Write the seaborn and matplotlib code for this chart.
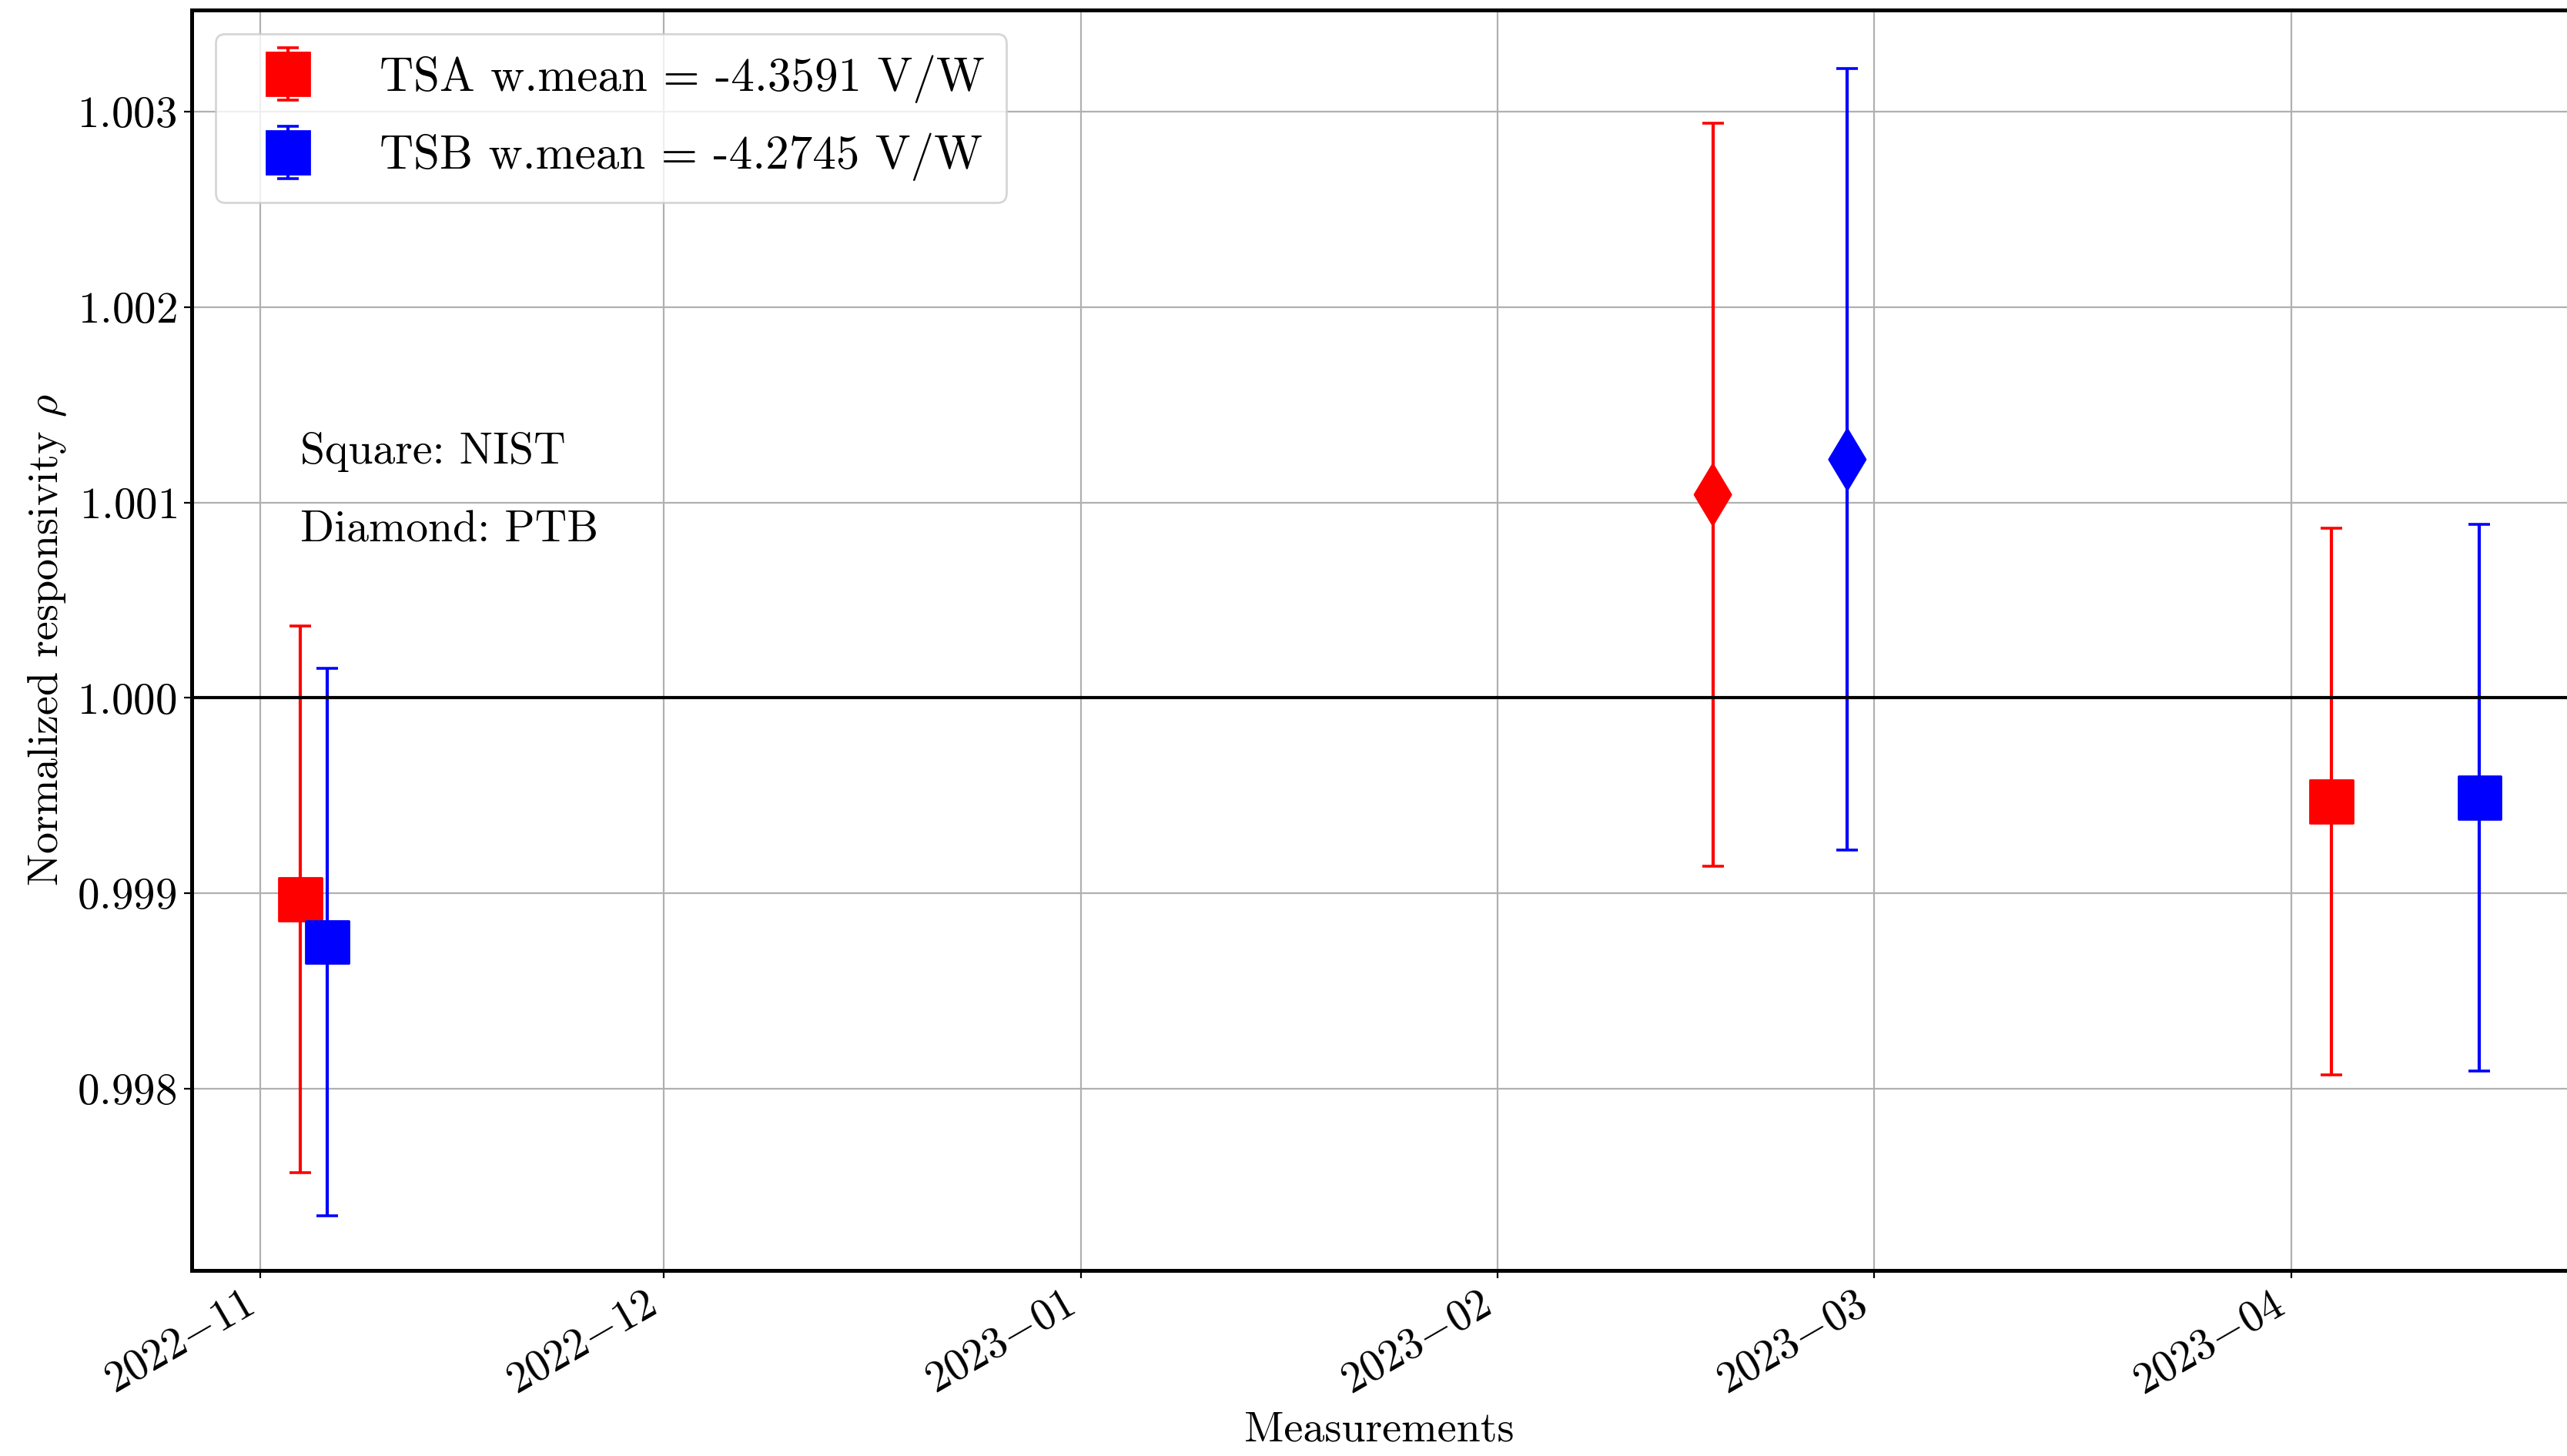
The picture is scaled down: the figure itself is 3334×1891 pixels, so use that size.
import numpy as np
import pandas as pd
import matplotlib
matplotlib.use("Agg")
import matplotlib.pyplot as plt
import matplotlib.dates as mdates
from matplotlib.ticker import MultipleLocator, FuncFormatter
from matplotlib.lines import Line2D
from matplotlib.container import ErrorbarContainer
from matplotlib.legend_handler import HandlerErrorbar
import seaborn as sns

# ---- data ----
labs = ["NIST", "PTB", "NIST"]
dates_tsa = ["2022-11-04", "2023-02-17", "2023-04-04"]
rho_tsa = [0.99897, 1.00104, 0.99947]
err_tsa = [0.00140, 0.00190, 0.00140]
dates_tsb = ["2022-11-06", "2023-02-27", "2023-04-15"]
rho_tsb = [0.99875, 1.00122, 0.99949]
err_tsb = [0.00140, 0.00200, 0.00140]
label_tsa = "TSA w.mean = -4.3591 V/W"
label_tsb = "TSB w.mean = -4.2745 V/W"
colors = {"TSA": "red", "TSB": "blue"}
markers = {"NIST": "s", "PTB": "d"}

df = pd.DataFrame({
    "date": pd.to_datetime(dates_tsa + dates_tsb),
    "rho": rho_tsa + rho_tsb,
    "err": err_tsa + err_tsb,
    "detector": ["TSA"] * 3 + ["TSB"] * 3,
    "lab": labs + labs,
})

sns.set_theme(style="whitegrid")
plt.rcParams.update({
    "font.family": "serif",
    "font.serif": ["cmr10"],
    "mathtext.fontset": "cm",
    "axes.formatter.use_mathtext": True,
    "axes.edgecolor": "black",
    "axes.linewidth": 1.8,
    "grid.color": "#b0b0b0",
    "grid.linewidth": 0.8,
    "xtick.bottom": True,
    "ytick.left": True,
    "xtick.color": "black",
    "ytick.color": "black",
    "xtick.major.size": 3.5,
    "ytick.major.size": 3.5,
    "xtick.major.width": 0.8,
    "ytick.major.width": 0.8,
    "text.color": "black",
    "axes.labelcolor": "black",
})

fig = plt.figure(figsize=(16.67, 9.455), dpi=200)
ax = fig.add_axes([0.0747, 0.1274, 1.0 - 0.0747, 0.9931 - 0.1274])

sns.scatterplot(data=df, x="date", y="rho", hue="detector", style="lab",
                palette=colors, markers=markers, s=400, linewidth=1,
                edgecolor="face", legend=False, zorder=3, ax=ax)

handles = []
for det, lab in [("TSA", label_tsa), ("TSB", label_tsb)]:
    sub = df[df["detector"] == det]
    eb = ax.errorbar(sub["date"], sub["rho"], yerr=sub["err"], fmt="none",
                     ecolor=colors[det], elinewidth=1.5, capsize=5,
                     capthick=1.3, zorder=2)
    _, caps, bars = eb.lines
    mk = Line2D([], [], ls="none", marker="s", ms=20, color=colors[det],
                mec=colors[det])
    handles.append(ErrorbarContainer((mk, caps, bars), has_xerr=False,
                                     has_yerr=True, label=lab))

ax.axhline(1.0, color="black", lw=1.5, zorder=2)

ax.text(pd.Timestamp(dates_tsa[0]), 1.0012, "Square: NIST", fontsize=20.8)
ax.text(pd.Timestamp(dates_tsa[0]), 1.0008, "Diamond: PTB", fontsize=20.8)

ax.set_xlim(pd.Timestamp("2022-10-26 22:00"), pd.Timestamp("2023-04-21 12:00"))
ax.set_ylim(0.99707, 1.00352)
ax.yaxis.set_major_locator(MultipleLocator(0.001))
ax.yaxis.set_major_formatter(FuncFormatter(lambda v, p: f"${v:.3f}$"))
ax.xaxis.set_major_locator(mdates.MonthLocator())
ax.xaxis.set_major_formatter(FuncFormatter(
    lambda v, p: mdates.num2date(v).strftime("$%Y{-}%m$")))
ax.tick_params(axis="both", labelsize=20.5)
for t in ax.get_xticklabels():
    t.set_rotation(30)
    t.set_ha("right")
ax.spines["right"].set_visible(False)
ax.grid(True)

ax.set_xlabel("Measurements", fontsize=20.2)
ax.set_ylabel(r"Normalized responsivity $\rho$", fontsize=20.2)

ax.legend(handles=handles, labels=[label_tsa, label_tsb], loc="upper left",
          fontsize=22, frameon=True, framealpha=0.8, edgecolor="#cccccc",
          fancybox=True, labelspacing=0.64, borderpad=0.45,
          handlelength=2.2, handletextpad=0.85, borderaxespad=0.5,
          handler_map={ErrorbarContainer: HandlerErrorbar(yerr_size=0.56)})

fig.savefig("out.png", dpi=200)
